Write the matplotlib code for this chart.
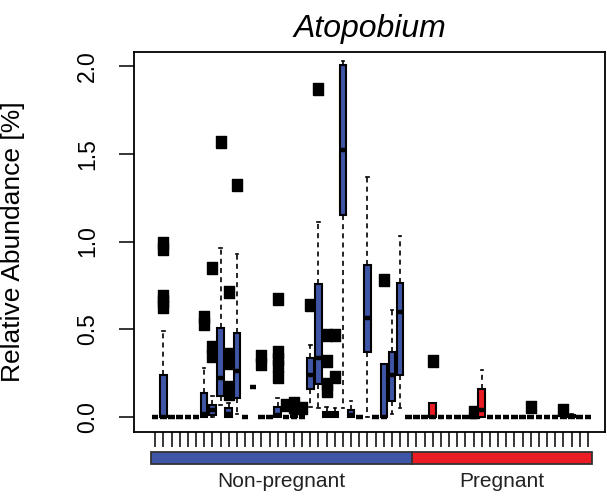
import matplotlib
matplotlib.use('Agg')
import matplotlib.pyplot as plt
from matplotlib.patches import Rectangle
from matplotlib.transforms import blended_transform_factory

plt.rcParams['font.family'] = ['Liberation Sans', 'DejaVu Sans']

# per-sample box statistics (relative abundance, %)
q1 = [0, 0, 0, 0, 0, 0, 0, 0.01, 0.12, 0, 0.11, 0, 0.17, 0, 0, 0, 0, 0, 0, 0.16,
      0.19, 0, 0, 1.15, 0, 0, 0.372, 0, 0, 0.091, 0.239, 0,
      0, 0, 0, 0, 0, 0, 0, 0, 0, 0, 0, 0, 0, 0, 0, 0, 0, 0, 0, 0, 0, 0]
med = [0, 0, 0, 0, 0, 0, 0.02, 0.04, 0.22, 0.02, 0.26, 0, 0.17, 0, 0, 0.01, 0, 0, 0, 0.24,
       0.335, 0.01, 0.01, 1.52, 0.01, 0, 0.562, 0, 0, 0.239, 0.60, 0,
       0, 0, 0, 0, 0, 0, 0, 0, 0.04, 0, 0, 0, 0, 0, 0, 0, 0, 0, 0, 0, 0, 0]
q3 = [0, 0.24, 0, 0, 0, 0, 0.14, 0.07, 0.505, 0.05, 0.477, 0, 0.17, 0, 0, 0.057, 0, 0.02, 0, 0.337,
      0.76, 0.03, 0.03, 2.006, 0.04, 0, 0.866, 0, 0.30, 0.372, 0.762, 0,
      0, 0, 0.08, 0, 0, 0, 0, 0, 0.158, 0, 0, 0, 0, 0, 0, 0, 0, 0, 0, 0.01, 0, 0]
lo = [0, 0, 0, 0, 0, 0, 0, 0, 0.07, 0, 0.02, 0, 0.17, 0, 0, 0, 0, 0, 0, 0.06,
      0.05, 0, 0, 0.05, 0, 0, 0, 0, 0, 0.02, 0.05, 0,
      0, 0, 0, 0, 0, 0, 0, 0, 0, 0, 0, 0, 0, 0, 0, 0, 0, 0, 0, 0, 0, 0]
hi = [0, 0.49, 0, 0, 0, 0, 0.28, 0.12, 0.965, 0.08, 0.93, 0, 0.17, 0, 0, 0.11, 0, 0.03, 0, 0.41,
      1.11, 0.06, 0.05, 2.03, 0.09, 0, 1.37, 0, 0.30, 0.61, 1.03, 0,
      0, 0, 0.08, 0, 0, 0, 0, 0, 0.27, 0, 0, 0, 0, 0, 0, 0, 0, 0, 0, 0.02, 0, 0]
outliers = {2: [0.99, 0.96, 0.69, 0.66, 0.63], 7: [0.57, 0.53], 8: [0.85, 0.40, 0.35],
            9: [1.57], 10: [0.71, 0.36, 0.31, 0.17, 0.13], 11: [1.32], 14: [0.35, 0.30],
            16: [0.67, 0.37, 0.33, 0.29, 0.23], 17: [0.07], 18: [0.08, 0.06], 19: [0.05],
            20: [0.64], 21: [1.87], 22: [0.47, 0.32, 0.19, 0.15], 23: [0.47, 0.23],
            29: [0.78], 35: [0.32], 40: [0.03], 47: [0.06], 51: [0.04]}

groups = ['Non-pregnant', 'Pregnant']
group_sizes = [32, 22]
group_colors = ['#3F55A5', '#EC1C24']

n = len(q1)
stats = []
for i in range(n):
    stats.append(dict(q1=q1[i], med=med[i], q3=q3[i], whislo=lo[i], whishi=hi[i],
                      fliers=outliers.get(i + 1, [])))

fig = plt.figure(figsize=(6.07, 4.97), dpi=100)
ax = fig.add_axes([134 / 607, 1 - 432 / 497, 471 / 607, 380 / 497])

sq = [(-0.42, -0.5), (0.42, -0.5), (0.42, 0.5), (-0.42, 0.5), (-0.42, -0.5)]
res = ax.bxp(stats, positions=range(1, n + 1), widths=0.8, patch_artist=True,
             capwidths=0.3,
             boxprops=dict(edgecolor='black', linewidth=1.5),
             medianprops=dict(color='black', linewidth=3.2, solid_capstyle='butt'),
             whiskerprops=dict(color='black', linewidth=1.2, linestyle=(0, (3, 2.5))),
             capprops=dict(color='black', linewidth=1.2),
             flierprops=dict(marker=sq, markersize=8.2, markerfacecolor='black',
                             markeredgecolor='black', linestyle='none'))

colors = []
for c, s in zip(group_colors, group_sizes):
    colors += [c] * s
for b, c in zip(res['boxes'], colors):
    b.set_facecolor(c)

ax.set_xlim(-1.6, 56.1)
ax.set_ylim(-0.085, 2.08)
ax.set_yticks([0, 0.5, 1.0, 1.5, 2.0])
ax.set_yticklabels(['0.0', '0.5', '1.0', '1.5', '2.0'], rotation=90, va='center')
ax.set_xticks(range(1, n + 1))
ax.set_xticklabels([''] * n)
ax.tick_params(axis='both', length=11, width=1.1, direction='out', labelsize=16.5)
ax.tick_params(axis='y', pad=14)
for s in ax.spines.values():
    s.set_linewidth(1.3)

ax.set_ylabel('Relative Abundance [%]', fontsize=19)
ax.yaxis.set_label_coords(-0.232, 0.5)
ax.text(0.5, 1.06, 'Atopobium', style='italic', fontsize=23, ha='center', va='center',
        transform=ax.transAxes)

# group bar under the axis
tr = blended_transform_factory(ax.transData, ax.transAxes)
start = 0.5
for g, s, c in zip(groups, group_sizes, group_colors):
    ax.add_patch(Rectangle((start, -0.085), s, 0.033, facecolor=c, edgecolor='#333333',
                           linewidth=1.3, transform=tr, clip_on=False))
    ax.text(start + s / 2, -0.129, g, fontsize=15, ha='center', va='center',
            transform=tr, color='#222222')
    start += s

fig.savefig('out.png', dpi=100)
